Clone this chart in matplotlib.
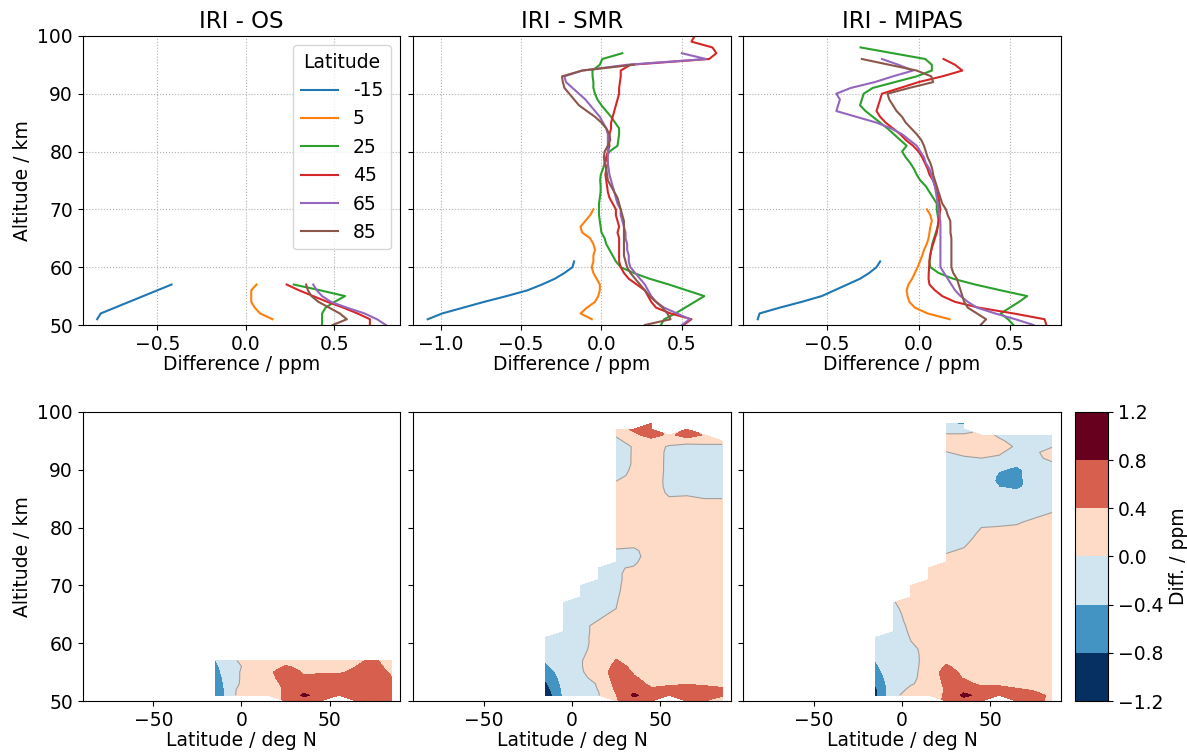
"""IRI minus OS / SMR / MIPAS differences: profiles (top) and lat-alt contours (bottom)."""

import numpy as np
import matplotlib

matplotlib.use("Agg")
import matplotlib.pyplot as plt

LATS = [-15, -5, 5, 15, 25, 35, 45, 55, 65, 75, 85]
LINE_LATS = [-15, 5, 25, 45, 65, 85]
LEVELS = [-1.2, -0.8, -0.4, 0.0, 0.4, 0.8, 1.2]
TITLES = ["IRI - OS", "IRI - SMR", "IRI - MIPAS"]

# lowest altitude [km] of each latitude profile; profiles go up in 1 km steps
OS_BASE = [51, 51, 51, 51, 50, 50, 50, 51, 50, 50, 50]
OS_DIFF = [
    [-0.84, -0.82, -0.74, -0.66, -0.58, -0.50, -0.42],
    [-0.03, -0.02, -0.03, -0.02, -0.02, -0.03, -0.02],
    [0.15, 0.08, 0.05, 0.03, 0.03, 0.03, 0.06],
    [0.30, 0.28, 0.30, 0.32, 0.33, 0.28, 0.20],
    [0.43, 0.43, 0.43, 0.45, 0.50, 0.56, 0.42, 0.27],
    [0.65, 0.86, 0.70, 0.55, 0.42, 0.38, 0.34, 0.30],
    [0.70, 0.70, 0.63, 0.55, 0.46, 0.38, 0.30, 0.23],
    [0.72, 0.64, 0.55, 0.45, 0.38, 0.35, 0.36],
    [0.79, 0.74, 0.67, 0.57, 0.48, 0.43, 0.40, 0.38],
    [0.70, 0.68, 0.65, 0.60, 0.55, 0.50, 0.45, 0.42],
    [0.49, 0.57, 0.53, 0.47, 0.41, 0.37, 0.35, 0.34],
]

SMR_BASE = [51, 51, 51, 51, 50, 50, 50, 51, 50, 50, 50]
SMR_DIFF = [
    [-1.08, -0.99, -0.86, -0.73, -0.59, -0.46, -0.37, -0.29, -0.23, -0.18, -0.17],
    [-0.36, -0.33, -0.30, -0.27, -0.24, -0.21, -0.19, -0.17, -0.15, -0.14,
     -0.13, -0.12, -0.12, -0.11, -0.11, -0.10, -0.10],
    [-0.06, -0.13, -0.09, -0.04, -0.02, -0.01, -0.01, -0.03, -0.05, -0.06,
     -0.05, -0.05, -0.04, -0.05, -0.07, -0.12, -0.13, -0.10, -0.07, -0.05],
    [-0.02, 0.01, 0.02, 0.06, 0.10, 0.10, 0.10, 0.09, 0.08, 0.07,
     0.06, 0.05, 0.04, 0.00, -0.02, -0.03, -0.035, -0.04, -0.04, -0.04,
     -0.04, -0.04, -0.04],
    [0.37, 0.39, 0.46, 0.52, 0.58, 0.64, 0.53, 0.42, 0.30, 0.20,
     0.12, 0.09, 0.07, 0.05, 0.03, 0.02, 0.00, -0.005, -0.01, -0.015,
     -0.015, -0.015, -0.01, -0.005, -0.005, -0.008, -0.004, 0.01, 0.02, 0.03,
     0.05, 0.10, 0.105, 0.11, 0.11, 0.085, 0.06, 0.03, 0.00, -0.025,
     -0.04, -0.05, -0.05, -0.055, -0.056, -0.01, 0.005, 0.13],
    [0.62, 0.88, 0.66, 0.52, 0.43, 0.37, 0.31, 0.26, 0.21, 0.17,
     0.14, 0.12, 0.11, 0.10, 0.10, 0.09, 0.08, 0.07, 0.06, 0.05,
     0.04, 0.03, 0.02, 0.005, -0.01, -0.02, -0.01, 0.01, 0.02, 0.03,
     0.04, 0.06, 0.07, 0.07, 0.07, 0.06, 0.05, 0.04, 0.03, 0.02,
     0.015, 0.01, 0.01, 0.01, 0.01, 0.02, 0.25, 0.50],
    [0.51, 0.56, 0.43, 0.34, 0.31, 0.29, 0.27, 0.22, 0.17, 0.14,
     0.12, 0.11, 0.11, 0.11, 0.11, 0.11, 0.10, 0.11, 0.10, 0.09,
     0.09, 0.07, 0.05, 0.04, 0.035, 0.03, 0.025, 0.03, 0.04, 0.03,
     0.04, 0.05, 0.045, 0.05, 0.06, 0.06, 0.07, 0.08, 0.09, 0.10,
     0.11, 0.11, 0.115, 0.12, 0.12, 0.18, 0.67, 0.715, 0.69, 0.56, 0.58],
    [0.56, 0.46, 0.37, 0.33, 0.30, 0.27, 0.24, 0.20, 0.17, 0.15,
     0.14, 0.14, 0.13, 0.13, 0.13, 0.12, 0.12, 0.11, 0.10, 0.10,
     0.09, 0.07, 0.06, 0.05, 0.045, 0.04, 0.035, 0.035, 0.035, 0.04,
     0.04, 0.04, 0.04, 0.03, 0.01, -0.02, -0.04, -0.05, -0.05, -0.05,
     -0.05, -0.05, -0.05, -0.03, 0.15, 0.25],
    [0.50, 0.55, 0.47, 0.39, 0.34, 0.31, 0.29, 0.27, 0.24, 0.21,
     0.18, 0.17, 0.17, 0.16, 0.16, 0.15, 0.15, 0.14, 0.13, 0.12,
     0.12, 0.10, 0.09, 0.08, 0.07, 0.06, 0.05, 0.045, 0.04, 0.04,
     0.04, 0.04, 0.04, 0.04, 0.03, 0.01, -0.01, -0.04, -0.07, -0.10,
     -0.14, -0.18, -0.22, -0.23, -0.12, 0.16, 0.65, 0.50],
    [0.40, 0.50, 0.44, 0.38, 0.33, 0.30, 0.27, 0.25, 0.22, 0.19,
     0.17, 0.16, 0.15, 0.15, 0.15, 0.15, 0.14, 0.14, 0.13, 0.12,
     0.12, 0.10, 0.09, 0.08, 0.06, 0.05, 0.04, 0.04, 0.03, 0.03,
     0.03, 0.04, 0.045, 0.045, 0.03, 0.00, -0.03, -0.06, -0.10, -0.13,
     -0.17, -0.20, -0.22, -0.23, -0.11, 0.18, 0.35],
    [0.27, 0.43, 0.41, 0.38, 0.34, 0.30, 0.27, 0.24, 0.21, 0.18,
     0.16, 0.15, 0.14, 0.14, 0.14, 0.14, 0.14, 0.14, 0.14, 0.13,
     0.12, 0.11, 0.10, 0.08, 0.06, 0.04, 0.035, 0.03, 0.02, 0.015,
     0.02, 0.04, 0.055, 0.05, 0.03, 0.00, -0.04, -0.09, -0.14, -0.17,
     -0.20, -0.23, -0.24, -0.245, -0.12, 0.20],
]

MIPAS_BASE = [51, 51, 51, 51, 50, 50, 50, 51, 50, 50, 50]
MIPAS_DIFF = [
    [-0.88, -0.87, -0.76, -0.64, -0.53, -0.46, -0.39, -0.32, -0.27, -0.23, -0.21],
    [-0.10, -0.12, -0.14, -0.15, -0.15, -0.14, -0.13, -0.12, -0.11, -0.10,
     -0.09, -0.08, -0.07, -0.06, -0.05, -0.03, -0.01],
    [0.17, 0.05, -0.02, -0.05, -0.06, -0.065, -0.055, -0.035, -0.02, -0.005,
     0.008, 0.02, 0.03, 0.045, 0.055, 0.06, 0.065, 0.073, 0.065, 0.046],
    [0.05, 0.06, 0.08, 0.09, 0.09, 0.08, 0.06, 0.04, 0.03, 0.04,
     0.05, 0.06, 0.07, 0.08, 0.09, 0.10, 0.10, 0.10, 0.10, 0.10,
     0.10, 0.10, 0.10],
    [0.52, 0.49, 0.45, 0.50, 0.55, 0.595, 0.45, 0.31, 0.19, 0.11,
     0.065, 0.06, 0.065, 0.07, 0.075, 0.085, 0.095, 0.105, 0.11, 0.105,
     0.10, 0.10, 0.08, 0.06, 0.04, 0.01, -0.01, -0.025, -0.045, -0.07,
     -0.09, -0.065, -0.10, -0.135, -0.17, -0.21, -0.25, -0.29, -0.32, -0.31,
     -0.30, -0.25, -0.13, -0.01, 0.073, 0.073, 0.037, -0.14, -0.317],
    [0.65, 0.88, 0.68, 0.50, 0.38, 0.30, 0.24, 0.19, 0.15, 0.12,
     0.10, 0.09, 0.09, 0.09, 0.09, 0.10, 0.10, 0.11, 0.11, 0.11,
     0.11, 0.10, 0.09, 0.07, 0.05, 0.03, 0.01, -0.01, -0.03, -0.05,
     -0.07, -0.08, -0.10, -0.12, -0.15, -0.18, -0.21, -0.23, -0.24, -0.24,
     -0.22, -0.14, -0.03, 0.06, 0.12, 0.10, 0.04, -0.15, -0.50],
    [0.70, 0.69, 0.52, 0.33, 0.20, 0.13, 0.09, 0.06, 0.055, 0.056,
     0.058, 0.06, 0.063, 0.07, 0.08, 0.09, 0.10, 0.105, 0.11, 0.115,
     0.119, 0.115, 0.11, 0.10, 0.09, 0.08, 0.06, 0.05, 0.035, 0.02,
     0.00, -0.03, -0.07, -0.10, -0.14, -0.18, -0.21, -0.23, -0.22, -0.21,
     -0.20, -0.10, 0.00, 0.13, 0.24, 0.20, 0.137],
    [0.62, 0.47, 0.36, 0.26, 0.21, 0.17, 0.14, 0.12, 0.11, 0.10,
     0.10, 0.10, 0.10, 0.11, 0.11, 0.11, 0.11, 0.115, 0.115, 0.115,
     0.11, 0.10, 0.09, 0.08, 0.07, 0.06, 0.05, 0.035, 0.02, 0.005,
     -0.02, -0.06, -0.09, -0.14, -0.20, -0.28, -0.40, -0.46, -0.44, -0.38,
     -0.22, -0.05, 0.05, 0.10, 0.05, -0.05],
    [0.63, 0.53, 0.42, 0.32, 0.27, 0.23, 0.20, 0.18, 0.16, 0.14,
     0.12, 0.12, 0.12, 0.12, 0.12, 0.12, 0.12, 0.12, 0.119, 0.115,
     0.11, 0.105, 0.10, 0.095, 0.09, 0.08, 0.07, 0.06, 0.04, 0.03,
     0.01, -0.01, -0.05, -0.09, -0.15, -0.23, -0.34, -0.45, -0.44, -0.43,
     -0.45, -0.37, -0.24, -0.14, -0.03, -0.11, -0.20],
    [0.48, 0.45, 0.38, 0.30, 0.26, 0.24, 0.22, 0.20, 0.19, 0.17,
     0.16, 0.15, 0.15, 0.15, 0.15, 0.15, 0.15, 0.15, 0.145, 0.14,
     0.13, 0.12, 0.11, 0.10, 0.095, 0.085, 0.075, 0.065, 0.055, 0.04,
     0.03, 0.015, -0.01, -0.04, -0.09, -0.15, -0.22, -0.30, -0.34, -0.33,
     -0.30, -0.20, -0.08, -0.03, -0.03, -0.13, -0.25],
    [0.34, 0.37, 0.32, 0.27, 0.25, 0.24, 0.23, 0.22, 0.21, 0.19,
     0.18, 0.18, 0.18, 0.18, 0.18, 0.18, 0.175, 0.175, 0.174, 0.16,
     0.15, 0.13, 0.12, 0.11, 0.10, 0.09, 0.08, 0.075, 0.065, 0.05,
     0.04, 0.03, 0.015, -0.01, -0.04, -0.07, -0.09, -0.12, -0.14, -0.16,
     -0.17, -0.05, 0.08, 0.07, -0.01, -0.16, -0.31],
]


def profile_altitudes(base, profile):
    return base + np.arange(len(profile))


def lat_alt_grid(bases, profiles):
    """Place the latitude profiles on a common 1 km altitude grid, NaN where missing."""
    top = max(b + len(p) for b, p in zip(bases, profiles))
    alts = np.arange(50, top)
    grid = np.full((len(alts), len(profiles)), np.nan)
    for i, (base, prof) in enumerate(zip(bases, profiles)):
        j0 = base - 50
        grid[j0:j0 + len(prof), i] = prof
    return alts, np.ma.masked_invalid(grid)


plt.rcParams["font.size"] = 13.5
label_size = 13.5

fig = plt.figure(figsize=(11.87, 7.52), dpi=100)
lefts = [0.0697, 0.3482, 0.6262]
width = 0.2675
height = 0.3845
top_axes = [fig.add_axes([x, 0.5678, width, height]) for x in lefts]
bot_axes = [fig.add_axes([x, 0.0678, width, height]) for x in lefts]
cax = fig.add_axes([0.9058, 0.0678, 0.0280, height])

cmap = matplotlib.colormaps["RdBu_r"].resampled(6)
panels = [(OS_BASE, OS_DIFF), (SMR_BASE, SMR_DIFF), (MIPAS_BASE, MIPAS_DIFF)]

for k, (bases, profiles) in enumerate(panels):
    ax = top_axes[k]
    for lat in LINE_LATS:
        i = LATS.index(lat)
        ax.plot(profiles[i], profile_altitudes(bases[i], profiles[i]), lw=1.5, label=str(lat))
    ax.set_ylim(50, 100)
    ax.grid(True, linestyle=":", color="#b0b0b0", linewidth=0.8)
    ax.set_title(TITLES[k], fontsize=16.5)
    ax.set_xlabel("Difference / ppm", fontsize=label_size, labelpad=1)
    ax.set_yticks(np.arange(50, 101, 10))

    bax = bot_axes[k]
    alts, grid = lat_alt_grid(bases, profiles)
    cs = bax.contourf(LATS, alts, grid, levels=LEVELS, cmap=cmap)
    bax.contour(LATS, alts, grid, levels=[0.0], colors="#a0a0a0", linewidths=0.8)
    bax.set_xlim(-90, 90)
    bax.set_ylim(50, 100)
    bax.set_xticks([-50, 0, 50])
    bax.set_yticks(np.arange(50, 101, 10))
    bax.set_xlabel("Latitude / deg N", fontsize=label_size, labelpad=1)

    if k == 0:
        ax.set_ylabel("Altitude / km", fontsize=label_size)
        bax.set_ylabel("Altitude / km", fontsize=label_size)
    else:
        ax.tick_params(labelleft=False)
        bax.tick_params(labelleft=False)

top_axes[0].set_xticks([-0.5, 0.0, 0.5])
top_axes[1].set_xticks([-1.0, -0.5, 0.0, 0.5])
top_axes[2].set_xticks([-0.5, 0.0, 0.5])
top_axes[0].legend(title="Latitude", loc="upper right", fontsize=13.5, title_fontsize=13.5)

cbar = fig.colorbar(cs, cax=cax, ticks=LEVELS)
cbar.set_label("Diff. / ppm", fontsize=label_size)

fig.savefig("out.png", dpi=100)
